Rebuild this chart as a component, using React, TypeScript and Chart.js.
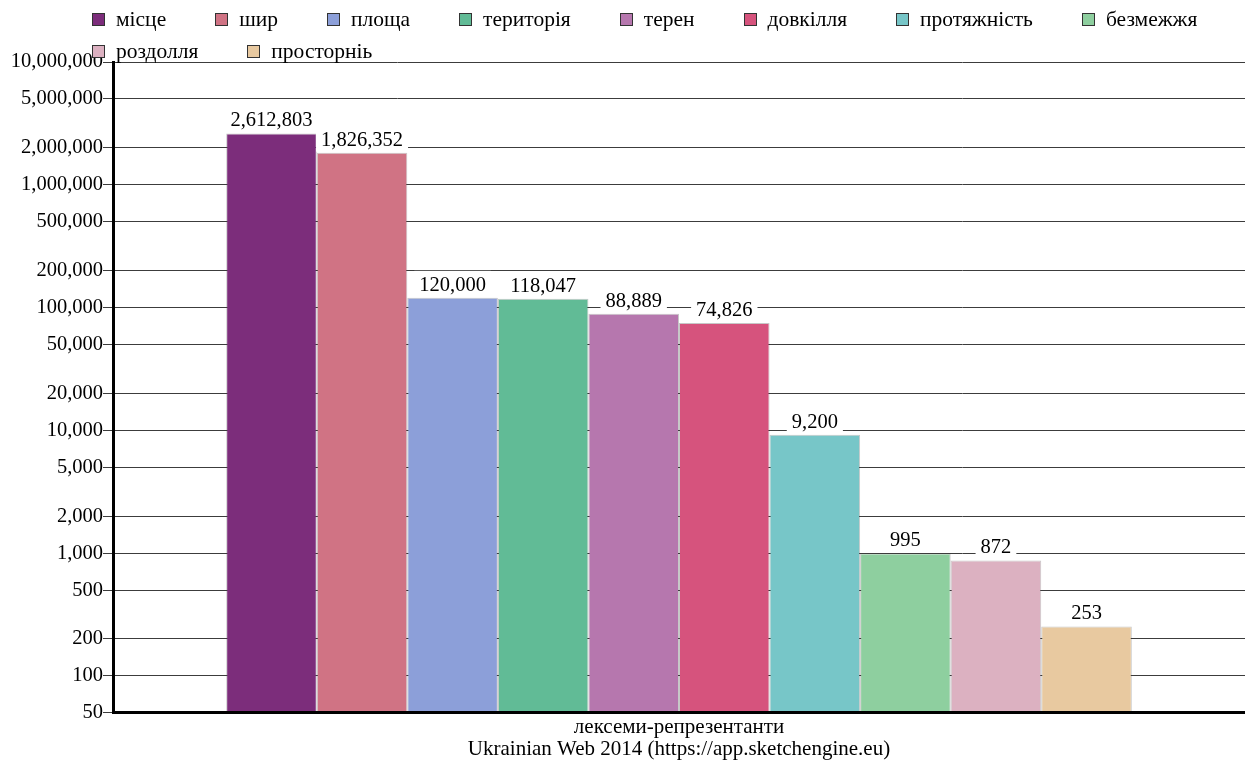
import React, { useEffect, useRef } from "react";
import { Chart, registerables } from "chart.js";

Chart.register(...registerables);

// Lexeme frequencies, Ukrainian Web 2014 corpus
const lexemes = ["місце", "шир", "площа", "територія", "терен", "довкілля", "протяжність", "безмежжя", "роздолля", "просторніь"];
const frequencies = [2612803, 1826352, 120000, 118047, 88889, 74826, 9200, 995, 872, 253];
const barColors = ["#7c2d7b", "#d07384", "#8c9fd9", "#61bb96", "#b677ae", "#d6537d", "#77c6c8", "#8ecf9f", "#dcb1c1", "#e8c9a0"];
const yTickValues = [50, 100, 200, 500, 1000, 2000, 5000, 10000, 20000, 50000, 100000, 200000, 500000, 1000000, 2000000, 5000000, 10000000];
const categoryLabels = ["лексеми-репрезентанти"];
const xAxisTitle = ["лексеми-репрезентанти", "Ukrainian Web 2014 (https://app.sketchengine.eu)"];

const FONT_FAMILY = "'Liberation Serif', 'Times New Roman', serif";
const fmt = (v: number) => v.toLocaleString("en-US");

// Writes each bar's value above it on a white plate
const valueLabels = {
  id: "valueLabels",
  afterDatasetsDraw(chart: any) {
    const ctx = chart.ctx;
    ctx.save();
    ctx.font = `20.5px ${FONT_FAMILY}`;
    ctx.textAlign = "center";
    ctx.textBaseline = "middle";
    chart.data.datasets.forEach((ds: any, i: number) => {
      const meta = chart.getDatasetMeta(i);
      meta.data.forEach((bar: any, j: number) => {
        const text = fmt(ds.data[j]);
        const w = ctx.measureText(text).width;
        ctx.fillStyle = "#ffffff";
        ctx.fillRect(bar.x - w / 2 - 5, bar.y - 27, w + 10, 26);
        ctx.fillStyle = "#000000";
        ctx.fillText(text, bar.x, bar.y - 12.5);
      });
    });
    ctx.restore();
  },
};

function Legend() {
  return (
    <div
      style={{
        position: "absolute",
        left: 92,
        top: 3,
        width: 1150,
        display: "flex",
        flexWrap: "wrap",
        columnGap: 49,
        fontFamily: FONT_FAMILY,
        fontSize: 21.5,
        color: "#000",
        zIndex: 2,
      }}
    >
      {lexemes.map((l, i) => (
        <div key={l} style={{ height: 32, display: "flex", alignItems: "center", whiteSpace: "nowrap" }}>
          <span
            style={{
              display: "inline-block",
              width: 11,
              height: 11,
              background: barColors[i],
              border: "1px solid #333",
              marginRight: 11,
              flex: "none",
            }}
          />
          <span style={{ lineHeight: "32px" }}>{l}</span>
        </div>
      ))}
    </div>
  );
}

export default function App() {
  const canvasRef = useRef<HTMLCanvasElement | null>(null);

  useEffect(() => {
    if (!canvasRef.current) return;
    const chart = new Chart(canvasRef.current, {
      type: "bar",
      data: {
        labels: categoryLabels,
        datasets: lexemes.map((l, i) => ({
          label: l,
          data: [frequencies[i]],
          backgroundColor: barColors[i],
          borderColor: "rgba(70,70,70,0.3)",
          borderWidth: 1,
          categoryPercentage: 0.8,
          barPercentage: 1.0,
        })),
      },
      options: {
        responsive: false,
        animation: false,
        layout: { padding: { top: 62, right: 0, bottom: 13, left: 0 } },
        plugins: {
          legend: { display: false },
          tooltip: { enabled: false },
        },
        scales: {
          x: {
            type: "category",
            grid: { display: false, drawTicks: false },
            border: { display: true, color: "#000", width: 3, z: 1 },
            ticks: { display: false },
            title: {
              display: true,
              text: xAxisTitle,
              color: "#000",
              font: { family: FONT_FAMILY, size: 21, lineHeight: 1.05 },
              padding: { top: 4, bottom: 0 },
            },
          },
          y: {
            type: "logarithmic",
            min: 50,
            max: 10000000,
            afterBuildTicks: (scale: any) => {
              scale.ticks = yTickValues.map((v) => ({ value: v }));
            },
            afterFit: (scale: any) => {
              scale.width = 113;
            },
            grid: { color: "#3c3c3c", lineWidth: 1, tickLength: 10, drawTicks: true },
            border: { display: true, color: "#000", width: 3, z: 1 },
            ticks: {
              autoSkip: false,
              padding: 0,
              color: "#000",
              font: { family: FONT_FAMILY, size: 20.5 },
              callback: (v: any) => fmt(Number(v)),
            },
          },
        },
      },
      plugins: [valueLabels],
    });
    return () => chart.destroy();
  }, []);

  return (
    <div style={{ position: "absolute", left: 0, top: 0, width: 1245, height: 774, background: "#fff" }}>
      <Legend />
      <canvas ref={canvasRef} width={1245} height={774} style={{ position: "absolute", left: 0, top: 0 }} />
    </div>
  );
}
